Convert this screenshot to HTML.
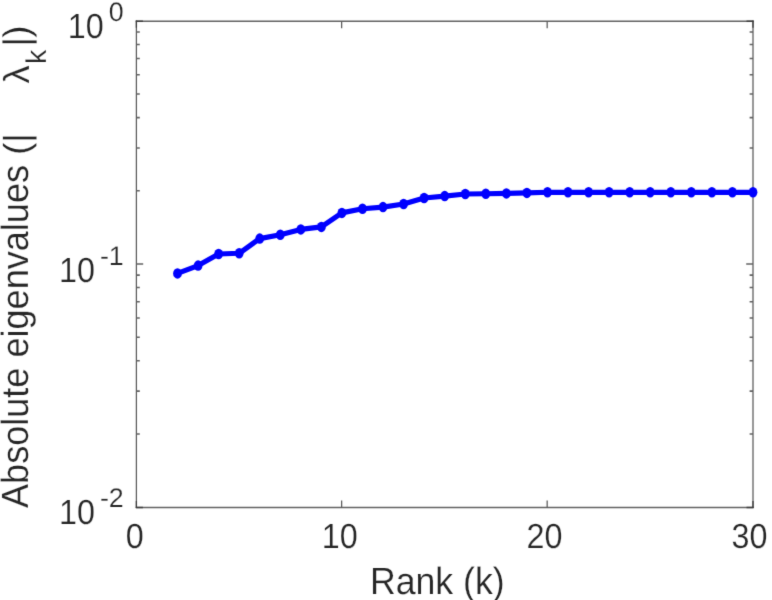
<!DOCTYPE html>
<html><head><meta charset="utf-8"><title>Eigenvalues</title>
<style>html,body{margin:0;padding:0;background:#fff;overflow:hidden}svg{display:block}text{stroke:#fff;stroke-width:0.2px;paint-order:fill stroke;text-rendering:geometricPrecision;font-family:"Liberation Sans",sans-serif;fill:#262626}</style></head><body>
<svg width="772" height="600" viewBox="0 0 772 600">
<defs><filter id="soft" filterUnits="userSpaceOnUse" x="0" y="0" width="772" height="600" color-interpolation-filters="sRGB"><feConvolveMatrix order="3" divisor="1" edgeMode="duplicate" preserveAlpha="true" kernelMatrix="0.01134 0.08382 0.01134 0.08382 0.61935 0.08382 0.01134 0.08382 0.01134"/></filter></defs>
<g filter="url(#soft)">
<rect width="772" height="600" fill="#fff"/>
<g fill="none">
<path stroke="#5a5a5a" stroke-width="1.25" d="M136.40 20.50V508.10M753.00 20.50V508.10"/>
<path stroke="#626262" stroke-width="1.55" d="M135.80 21.20H753.60M135.80 507.50H753.60"/>
<path stroke="#5a5a5a" stroke-width="1.25" d="M341.63 507.40v-7M341.63 21.20v7M547.17 507.40v-7M547.17 21.20v7"/>
<path stroke="#626262" stroke-width="1.55" d="M136.40 264.00h6.8M753.00 264.00h-6.8M136.40 190.82h3.4M753.00 190.82h-3.4M136.40 148.01h3.4M753.00 148.01h-3.4M136.40 117.64h3.4M753.00 117.64h-3.4M136.40 94.08h3.4M753.00 94.08h-3.4M136.40 74.83h3.4M753.00 74.83h-3.4M136.40 58.56h3.4M753.00 58.56h-3.4M136.40 44.46h3.4M753.00 44.46h-3.4M136.40 32.02h3.4M753.00 32.02h-3.4M136.40 433.92h3.4M753.00 433.92h-3.4M136.40 391.11h3.4M753.00 391.11h-3.4M136.40 360.74h3.4M753.00 360.74h-3.4M136.40 337.18h3.4M753.00 337.18h-3.4M136.40 317.93h3.4M753.00 317.93h-3.4M136.40 301.66h3.4M753.00 301.66h-3.4M136.40 287.56h3.4M753.00 287.56h-3.4M136.40 275.12h3.4M753.00 275.12h-3.4"/>
<path stroke="#3c3c3c" stroke-width="1.25" d="M136.40 507.90v-7M136.40 20.70v7M753.00 507.90v-7M753.00 20.70v7"/>
<path stroke="#3c3c3c" stroke-width="1.5" d="M135.90 21.20h7M753.50 21.20h-7M135.90 507.50h7M753.50 507.50h-7"/>
</g>
<polyline fill="none" stroke="#0000ff" stroke-width="5.15" stroke-linejoin="round" points="177.5,273.4 198.1,265.6 218.6,254.0 239.2,253.3 259.7,238.6 280.3,234.7 300.8,229.4 321.4,226.9 341.9,212.9 362.5,208.8 383.0,207.1 403.6,204.0 424.1,198.0 444.7,196.1 465.3,194.0 485.8,193.8 506.4,193.4 526.9,192.9 547.5,192.3 568.0,192.3 588.6,192.3 609.1,192.3 629.7,192.3 650.2,192.3 670.8,192.3 691.3,192.3 711.9,192.3 732.4,192.3 753.0,192.3"/>
<g fill="#0000ff"><ellipse cx="177.5" cy="273.4" rx="4.4" ry="5.25"/><ellipse cx="198.1" cy="265.6" rx="4.4" ry="5.25"/><ellipse cx="218.6" cy="254.0" rx="4.4" ry="5.25"/><ellipse cx="239.2" cy="253.3" rx="4.4" ry="5.25"/><ellipse cx="259.7" cy="238.6" rx="4.4" ry="5.25"/><ellipse cx="280.3" cy="234.7" rx="4.4" ry="5.25"/><ellipse cx="300.8" cy="229.4" rx="4.4" ry="5.25"/><ellipse cx="321.4" cy="226.9" rx="4.4" ry="5.25"/><ellipse cx="341.9" cy="212.9" rx="4.4" ry="5.25"/><ellipse cx="362.5" cy="208.8" rx="4.4" ry="5.25"/><ellipse cx="383.0" cy="207.1" rx="4.4" ry="5.25"/><ellipse cx="403.6" cy="204.0" rx="4.4" ry="5.25"/><ellipse cx="424.1" cy="198.0" rx="4.4" ry="5.25"/><ellipse cx="444.7" cy="196.1" rx="4.4" ry="5.25"/><ellipse cx="465.3" cy="194.0" rx="4.4" ry="5.25"/><ellipse cx="485.8" cy="193.8" rx="4.4" ry="5.25"/><ellipse cx="506.4" cy="193.4" rx="4.4" ry="5.25"/><ellipse cx="526.9" cy="192.9" rx="4.4" ry="5.25"/><ellipse cx="547.5" cy="192.3" rx="4.4" ry="5.25"/><ellipse cx="568.0" cy="192.3" rx="4.4" ry="5.25"/><ellipse cx="588.6" cy="192.3" rx="4.4" ry="5.25"/><ellipse cx="609.1" cy="192.3" rx="4.4" ry="5.25"/><ellipse cx="629.7" cy="192.3" rx="4.4" ry="5.25"/><ellipse cx="650.2" cy="192.3" rx="4.4" ry="5.25"/><ellipse cx="670.8" cy="192.3" rx="4.4" ry="5.25"/><ellipse cx="691.3" cy="192.3" rx="4.4" ry="5.25"/><ellipse cx="711.9" cy="192.3" rx="4.4" ry="5.25"/><ellipse cx="732.4" cy="192.3" rx="4.4" ry="5.25"/><ellipse cx="753.0" cy="192.3" rx="4.4" ry="5.25"/></g>
<text transform="translate(134.75 548.08) scale(1 1.08)" font-size="32.3" text-anchor="middle">0</text>
<text transform="translate(339.73 548.08) scale(1 1.08)" font-size="32.3" text-anchor="middle">10</text>
<text transform="translate(544.42 548.08) scale(1 1.08)" font-size="32.3" text-anchor="middle">20</text>
<text transform="translate(749.40 548.08) scale(1 1.08)" font-size="32.3" text-anchor="middle">30</text>
<text transform="translate(437.3 593.8) scale(1 1.06)" font-size="35.7" text-anchor="middle">Rank (k)</text>
<text transform="translate(103.80 38.08) scale(1 1.08)" font-size="32.3" text-anchor="end">10</text>
<text x="108.80" y="21.00" font-size="26.8">0</text>
<text transform="translate(94.90 281.88) scale(1 1.08)" font-size="32.3" text-anchor="end">10</text>
<text x="99.90" y="265.00" font-size="26.8">-1</text>
<text transform="translate(94.90 524.38) scale(1 1.08)" font-size="32.3" text-anchor="end">10</text>
<text x="99.90" y="507.40" font-size="26.8">-2</text>
<g transform="translate(28.0 508) rotate(-90) scale(1 1.05)">
<text x="0" y="0" font-size="36.1">Absolute eigenvalues</text>
</g>
<g transform="translate(28.3 508) rotate(-90)">
<text x="353.17" y="0.7" font-size="36.1">(|</text>
<text x="424.6" y="0.5" font-size="36.1">λ</text>
<text x="443.9" y="18" font-size="28.6">k</text>
<text x="461.6" y="0.5" font-size="36.9">|</text>
<text x="470.3" y="0.5" font-size="36.9">)</text>
</g>
</g>
</svg></body></html>
